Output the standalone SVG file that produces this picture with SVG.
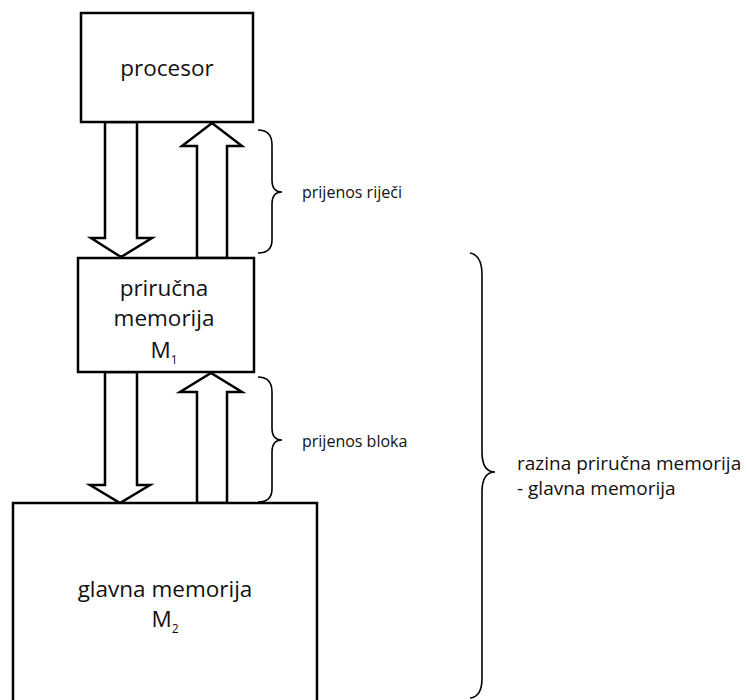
<svg xmlns="http://www.w3.org/2000/svg" width="748" height="700" viewBox="0 0 748 700">
<style>
.box{fill:#fff;stroke:#000;stroke-width:2.5}
.arrow{fill:#fff;stroke:#000;stroke-width:2.5;stroke-linejoin:miter}
.brace{fill:none;stroke:#000;stroke-width:1.6}
.t{font-family:"Open Sans","Noto Sans","Liberation Sans",sans-serif;fill:#111;text-anchor:middle;font-size:22.5px}
.l{font-family:"Open Sans","Noto Sans","Liberation Sans",sans-serif;fill:#111;font-size:16px}
.lb{font-family:"Open Sans","Noto Sans","Liberation Sans",sans-serif;fill:#111;font-size:19px}
.sub{font-size:12px}
</style>
<rect width="748" height="700" fill="#fff"/>
<g id="connectors">
<polygon class="arrow" points="105,122 137,122 137,238 152,238 121,257 91,238 105,238"/>
<polygon class="arrow" points="197,258 227,258 227,146 242,146 212,123 182,146 197,146"/>
<polygon class="arrow" points="105,372 137,372 137,485 150,485 120,503 90,485 105,485"/>
<polygon class="arrow" points="197,503 227,503 227,392 242,392 211,373 180,392 197,392"/>
</g>
<g id="procesor">
<rect class="box" x="81" y="13" width="172" height="109"/>
<text class="t" x="167" y="76">procesor</text>
</g>
<g id="prirucna">
<rect class="box" x="78" y="258" width="176" height="114"/>
<text class="t" x="164" y="296">priručna</text>
<text class="t" x="164" y="326">memorija</text>
<text class="t" x="164" y="358">M<tspan class="sub" dy="6">1</tspan></text>
</g>
<g id="glavna">
<path class="box" d="M13,702 V503 H317 V702"/>
<text class="t" x="165" y="597">glavna memorija</text>
<text class="t" x="165" y="627">M<tspan class="sub" dy="6">2</tspan></text>
</g>
<g id="brace-rijeci">
<path class="brace" d="M258,130 Q272,130 272,145 V180 Q272,192 282,192 Q272,192 272,204 V240 Q272,253 258,253"/>
<text class="l" x="302" y="198">prijenos riječi</text>
</g>
<g id="brace-bloka">
<path class="brace" d="M258,377 Q272,377 272,392 V428 Q272,440 282,440 Q272,440 272,452 V489 Q272,502 258,502"/>
<text class="l" x="302" y="447">prijenos bloka</text>
</g>
<g id="brace-razina">
<path class="brace" d="M470,253 Q482,255 482,275 V452 Q482,472 495,472 Q482,472 482,492 V678 Q482,697 470,698"/>
<text class="lb" x="517" y="470">razina priručna memorija</text>
<text class="lb" x="517" y="495">- glavna memorija</text>
</g>
</svg>
